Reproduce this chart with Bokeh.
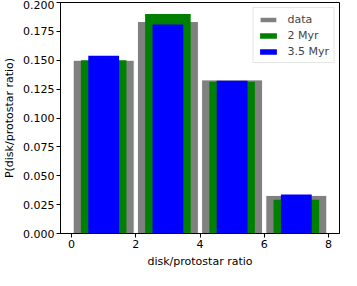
from bokeh.plotting import figure
from bokeh.models import ColumnDataSource, FixedTicker, PrintfTickFormatter, Range1d
from bokeh.embed import file_html
from bokeh.resources import INLINE

# data
centers = [1, 3, 5, 7]
p_data = [0.150, 0.1835, 0.133, 0.033]
p_2myr = [0.150, 0.190, 0.1314, 0.0292]
p_35myr = [0.1538, 0.181, 0.1322, 0.0337]
x_ticks = [0, 2, 4, 6, 8]
y_ticks = [0.0, 0.025, 0.05, 0.075, 0.1, 0.125, 0.15, 0.175, 0.2]

src = ColumnDataSource(dict(x=centers, d=p_data, m2=p_2myr, m35=p_35myr))

FONT = "DejaVu Sans"
FS = "11px"

p = figure(width=341, height=270, output_backend="svg", toolbar_location=None,
           x_range=Range1d(-0.345, 8.345), y_range=Range1d(0, 0.2),
           min_border_left=0, min_border_right=2, min_border_top=2, min_border_bottom=0)
p.background_fill_color = "white"
p.border_fill_color = "white"
p.outline_line_color = "black"
p.outline_line_width = 1
p.grid.visible = False

p.vbar(x="x", top="d", width=1.9, source=src, fill_color="#808080",
       line_color="white", line_width=1, legend_label="data")
p.vbar(x="x", top="m2", width=1.42, source=src, fill_color="#008000",
       line_color=None, legend_label="2 Myr")
p.vbar(x="x", top="m35", width=0.96, source=src, fill_color="#0000ff",
       line_color=None, legend_label="3.5 Myr")

for ax in (p.xaxis[0], p.yaxis[0]):
    ax.axis_line_color = "black"
    ax.major_tick_line_color = "black"
    ax.major_tick_out = 4
    ax.major_tick_in = 0
    ax.minor_tick_line_color = None
    ax.major_label_text_font = FONT
    ax.major_label_text_font_size = FS
    ax.major_label_text_color = "black"
    ax.axis_label_text_font = FONT
    ax.axis_label_text_font_size = FS
    ax.axis_label_text_font_style = "normal"
    ax.axis_label_text_color = "black"
    ax.major_label_standoff = 2
    ax.axis_label_standoff = 4

p.xaxis.ticker = FixedTicker(ticks=x_ticks)
p.yaxis.ticker = FixedTicker(ticks=y_ticks)
p.yaxis.formatter = PrintfTickFormatter(format="%.3f")
p.xaxis.axis_label = "disk/protostar ratio"
p.yaxis.axis_label = "P(disk/protostar ratio)"

lg = p.legend[0]
lg.location = "top_right"
lg.margin = 5
lg.padding = 4
lg.spacing = 2
lg.glyph_width = 21
lg.glyph_height = 7
lg.label_height = 14
lg.label_standoff = 9
lg.label_text_font = FONT
lg.label_text_font_size = FS
lg.border_line_color = "#cccccc"
lg.border_line_width = 1
lg.background_fill_alpha = 0.8

open("out.html", "w").write(file_html(p, INLINE))
